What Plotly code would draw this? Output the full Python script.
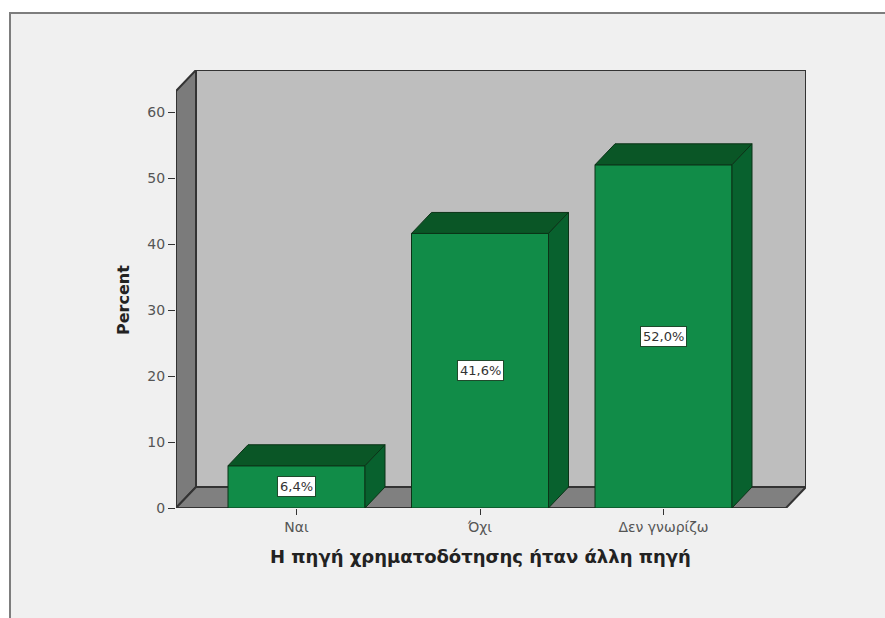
import plotly.graph_objects as go

# Chart data
categories = ["Ναι", "Όχι", "Δεν γνωρίζω"]
percent = [6.4, 41.6, 52.0]
percent_labels = ["6,4%", "41,6%", "52,0%"]
y_ticks = [0, 10, 20, 30, 40, 50, 60]
x_title = "Η πηγή χρηματοδότησης ήταν άλλη πηγή"
y_title = "Percent"

W, H = 885, 618
PX_PER_CAT = 183.5
PX_PER_PCT = 6.6
PLOT_L, PLOT_R, PLOT_T, PLOT_B = 176, 806, 70, 508
FIRST_CENTER = 296.5
DEPTH_PX_X, DEPTH_PX_Y = 20, 21

x_lo = (PLOT_L - FIRST_CENTER) / PX_PER_CAT
x_hi = (PLOT_R - FIRST_CENTER) / PX_PER_CAT
y_hi = (PLOT_B - PLOT_T) / PX_PER_PCT
dx = DEPTH_PX_X / PX_PER_CAT
dy = DEPTH_PX_Y / PX_PER_PCT
bar_w = 137 / PX_PER_CAT

FRONT, TOP, SIDE = "#118c48", "#0a5626", "#08612e"
EDGE = "#0b3317"
positions = list(range(len(categories)))


def poly(points):
    head, *rest = points
    return f"M{head[0]},{head[1]} " + " ".join(f"L{x},{y}" for x, y in rest) + " Z"


wall_line = dict(color="#333333", width=2)
shapes = [
    # Page panel behind the chart
    dict(type="rect", xref="paper", yref="paper", x0=10 / W, x1=1.02, y0=-0.02, y1=1 - 13 / H,
         fillcolor="#f0f0f0", line=dict(color="#7d7d7d", width=2), layer="below"),
    # Back wall
    dict(type="path", xref="x", yref="y", layer="below", fillcolor="#bebebe", line=wall_line,
         path=poly([(x_lo + dx, dy), (x_lo + dx, y_hi), (x_hi, y_hi), (x_hi, dy)])),
    # Left wall
    dict(type="path", xref="x", yref="y", layer="below", fillcolor="#7b7b7b", line=wall_line,
         path=poly([(x_lo, 0), (x_lo, y_hi - dy), (x_lo + dx, y_hi), (x_lo + dx, dy)])),
    # Floor
    dict(type="path", xref="x", yref="y", layer="below", fillcolor="#808080", line=wall_line,
         path=poly([(x_lo, 0), (x_lo + dx, dy), (x_hi, dy), (x_hi - dx, 0)])),
]

fig = go.Figure()

fig.add_trace(go.Bar(
    x=positions, y=percent, width=bar_w,
    marker=dict(color=FRONT, line=dict(color=EDGE, width=1)),
    hoverinfo="skip", showlegend=False,
))

# Top and side faces give each bar its depth
for c, v in zip(positions, percent):
    left, right = c - bar_w / 2, c + bar_w / 2
    fig.add_trace(go.Scatter(
        x=[left, left + dx, right + dx, right, left],
        y=[v, v + dy, v + dy, v, v],
        mode="lines", fill="toself", fillcolor=TOP,
        line=dict(color=EDGE, width=1), hoverinfo="skip", showlegend=False,
    ))
    fig.add_trace(go.Scatter(
        x=[right, right + dx, right + dx, right, right],
        y=[0, dy, v + dy, v, 0],
        mode="lines", fill="toself", fillcolor=SIDE,
        line=dict(color=EDGE, width=1), hoverinfo="skip", showlegend=False,
    ))

annotations = [
    dict(x=c, y=v / 2, xref="x", yref="y", text=label, showarrow=False,
         xanchor="center", yanchor="middle",
         font=dict(family="DejaVu Sans", size=13, color="#333333"),
         bgcolor="#ffffff", bordercolor="#1f4a2c", borderwidth=1, borderpad=2)
    for c, v, label in zip(positions, percent, percent_labels)
]
annotations += [
    dict(x=480 / W, y=1 - 556 / H, xref="paper", yref="paper", text=f"<b>{x_title}</b>",
         showarrow=False, xanchor="center", yanchor="middle",
         font=dict(family="DejaVu Sans", size=18, color="#222222")),
    dict(x=123 / W, y=1 - 300 / H, xref="paper", yref="paper", text=f"<b>{y_title}</b>",
         showarrow=False, textangle=-90, xanchor="center", yanchor="middle",
         font=dict(family="DejaVu Sans", size=16, color="#222222")),
]

fig.update_layout(
    width=W, height=H, autosize=False,
    margin=dict(l=0, r=0, t=0, b=0),
    paper_bgcolor="#ffffff", plot_bgcolor="rgba(0,0,0,0)",
    shapes=shapes, annotations=annotations,
    xaxis=dict(
        domain=[PLOT_L / W, PLOT_R / W], range=[x_lo, x_hi], automargin=False,
        tickmode="array", tickvals=positions, ticktext=categories,
        ticks="outside", ticklen=6, tickcolor="#333333", showgrid=False,
        zeroline=False, showline=False,
        tickfont=dict(family="DejaVu Sans", size=14, color="#555555"),
    ),
    yaxis=dict(
        domain=[1 - PLOT_B / H, 1 - PLOT_T / H], range=[0, y_hi], automargin=False,
        tickmode="array", tickvals=y_ticks,
        ticks="outside", ticklen=7, tickcolor="#333333", showgrid=False,
        zeroline=False, showline=False,
        tickfont=dict(family="DejaVu Sans", size=14, color="#555555"),
    ),
)

fig.write_html("out.html")
